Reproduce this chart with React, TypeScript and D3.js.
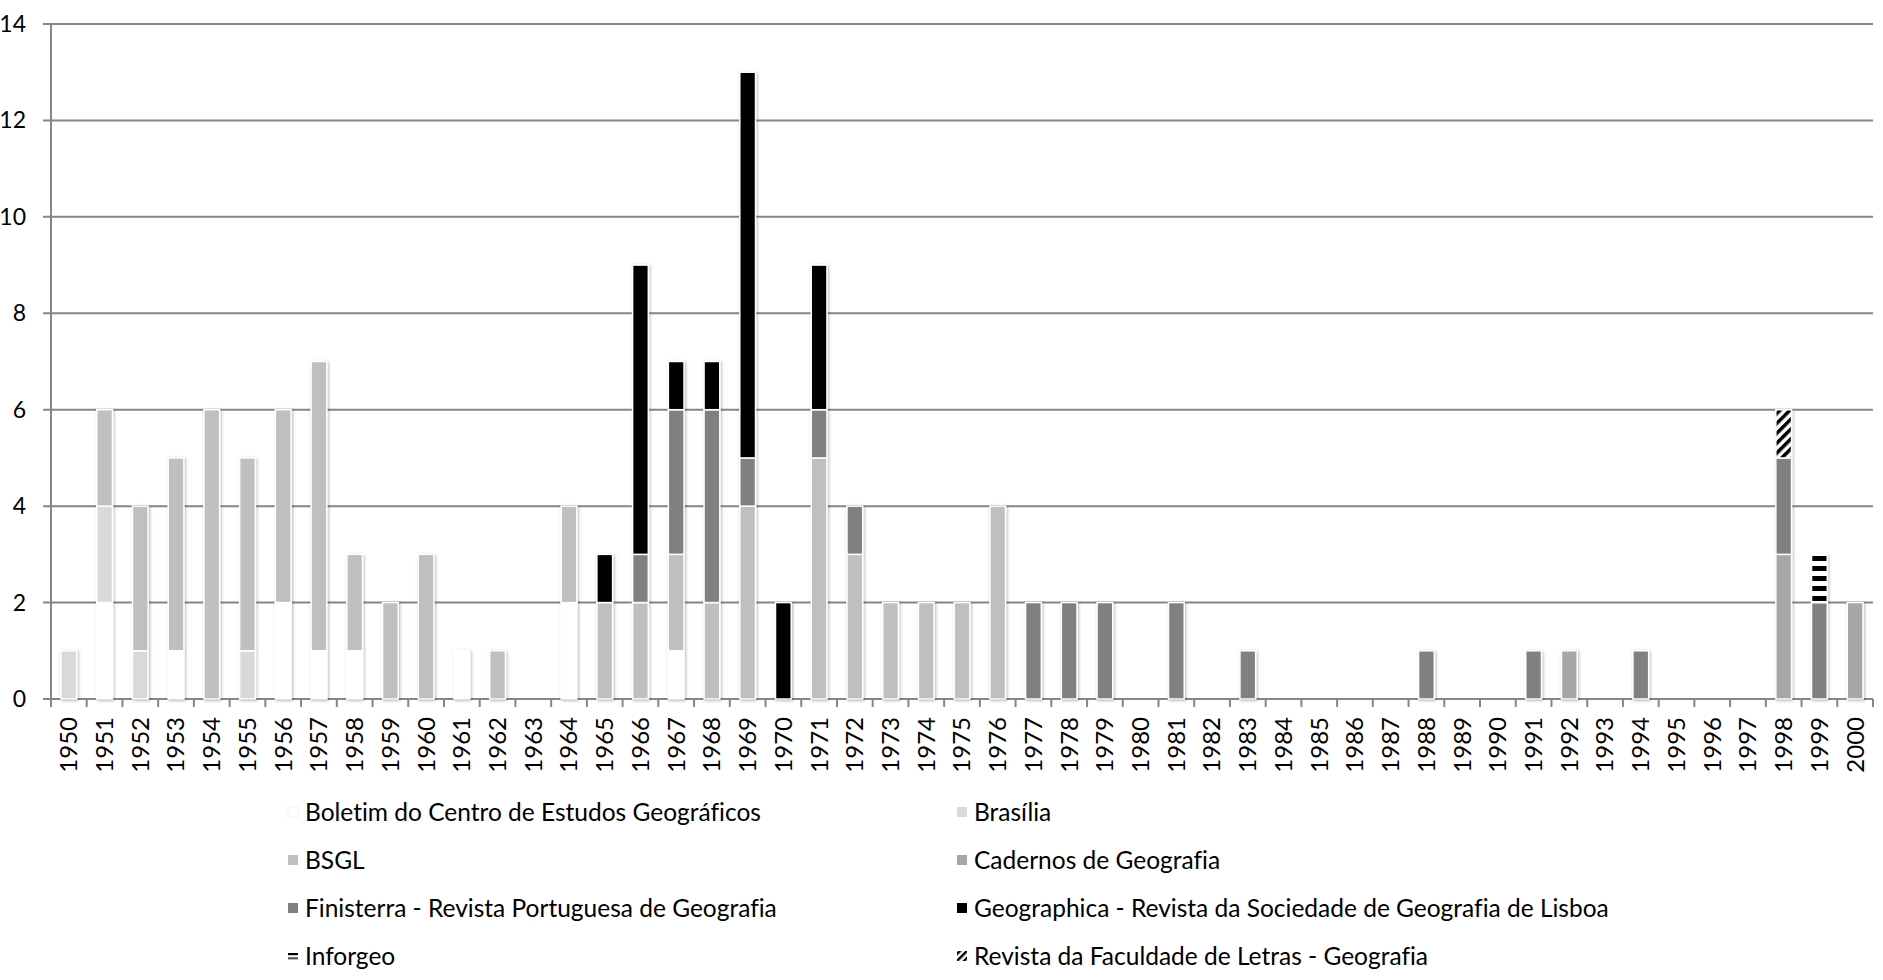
import React, { useEffect, useRef } from 'react';
import * as d3 from 'd3';

const years = d3.range(1950, 2001).map(String);

const seriesNames = [
  'Boletim do Centro de Estudos Geográficos',
  'Brasília',
  'BSGL',
  'Cadernos de Geografia',
  'Finisterra - Revista Portuguesa de Geografia',
  'Geographica - Revista da Sociedade de Geografia de Lisboa',
  'Inforgeo',
  'Revista da Faculdade de Letras - Geografia',
];

// values per year, 1950..2000
const boletim = [0, 2, 0, 1, 0, 0, 2, 1, 1, 0, 0, 1, 0, 0, 2, 0, 0, 1, 0, 0, 0, 0, 0, 0, 0, 0, 0, 0, 0, 0, 0, 0, 0, 0, 0, 0, 0, 0, 0, 0, 0, 0, 0, 0, 0, 0, 0, 0, 0, 0, 0];
const brasilia = [1, 2, 1, 0, 0, 1, 0, 0, 0, 0, 0, 0, 0, 0, 0, 0, 0, 0, 0, 0, 0, 0, 0, 0, 0, 0, 0, 0, 0, 0, 0, 0, 0, 0, 0, 0, 0, 0, 0, 0, 0, 0, 0, 0, 0, 0, 0, 0, 0, 0, 0];
const bsgl = [0, 2, 3, 4, 6, 4, 4, 6, 2, 2, 3, 0, 1, 0, 2, 2, 2, 2, 2, 4, 0, 5, 3, 2, 2, 2, 4, 0, 0, 0, 0, 0, 0, 0, 0, 0, 0, 0, 0, 0, 0, 0, 0, 0, 0, 0, 0, 0, 0, 0, 0];
const cadernos = [0, 0, 0, 0, 0, 0, 0, 0, 0, 0, 0, 0, 0, 0, 0, 0, 0, 0, 0, 0, 0, 0, 0, 0, 0, 0, 0, 0, 0, 0, 0, 0, 0, 0, 0, 0, 0, 0, 0, 0, 0, 0, 1, 0, 0, 0, 0, 0, 3, 0, 2];
const finisterra = [0, 0, 0, 0, 0, 0, 0, 0, 0, 0, 0, 0, 0, 0, 0, 0, 1, 3, 4, 1, 0, 1, 1, 0, 0, 0, 0, 2, 2, 2, 0, 2, 0, 1, 0, 0, 0, 0, 1, 0, 0, 1, 0, 0, 1, 0, 0, 0, 2, 2, 0];
const geographica = [0, 0, 0, 0, 0, 0, 0, 0, 0, 0, 0, 0, 0, 0, 0, 1, 6, 1, 1, 8, 2, 3, 0, 0, 0, 0, 0, 0, 0, 0, 0, 0, 0, 0, 0, 0, 0, 0, 0, 0, 0, 0, 0, 0, 0, 0, 0, 0, 0, 0, 0];
const inforgeo = [0, 0, 0, 0, 0, 0, 0, 0, 0, 0, 0, 0, 0, 0, 0, 0, 0, 0, 0, 0, 0, 0, 0, 0, 0, 0, 0, 0, 0, 0, 0, 0, 0, 0, 0, 0, 0, 0, 0, 0, 0, 0, 0, 0, 0, 0, 0, 0, 0, 1, 0];
const revistaFL = [0, 0, 0, 0, 0, 0, 0, 0, 0, 0, 0, 0, 0, 0, 0, 0, 0, 0, 0, 0, 0, 0, 0, 0, 0, 0, 0, 0, 0, 0, 0, 0, 0, 0, 0, 0, 0, 0, 0, 0, 0, 0, 0, 0, 0, 0, 0, 0, 1, 0, 0];

const yTicks = [0, 2, 4, 6, 8, 10, 12, 14];

const fills = ['#ffffff', '#d9d9d9', '#bfbfbf', '#a6a6a6', '#808080', '#000000', 'url(#pat-inforgeo)', 'url(#pat-revista)'];
const legendFills = ['#ffffff', '#d9d9d9', '#bfbfbf', '#a6a6a6', '#808080', '#000000', 'url(#pat-inforgeo-lg)', 'url(#pat-revista-lg)'];

const FONT = 'Lato, "Open Sans", sans-serif';

export default function App() {
  const ref = useRef<SVGSVGElement>(null);

  useEffect(() => {
    if (!ref.current) return;
    const svg = d3.select(ref.current);
    svg.selectAll('*').remove();

    const width = 1883;
    const height = 980;
    const m = { top: 24, right: 10, bottom: 281, left: 51 };

    const allSeries = [boletim, brasilia, bsgl, cadernos, finisterra, geographica, inforgeo, revistaFL];
    const table = years.map((yr, i) => {
      const row: any = { year: yr };
      seriesNames.forEach((n, k) => (row[n] = allSeries[k][i]));
      return row;
    });
    const stacked = d3.stack().keys(seriesNames)(table);

    const x = d3.scaleBand().domain(years).range([m.left, width - m.right]).paddingInner(0.56).paddingOuter(0.28);
    const y = d3.scaleLinear().domain([0, 14]).range([height - m.bottom, m.top]);

    const defs = svg.append('defs');
    // horizontal stripes (Inforgeo)
    const inf = defs.append('pattern').attr('id', 'pat-inforgeo').attr('patternUnits', 'userSpaceOnUse')
      .attr('y', 6).attr('width', 10).attr('height', 10);
    inf.append('rect').attr('width', 10).attr('height', 10).attr('fill', '#fff');
    inf.append('rect').attr('width', 10).attr('height', 5).attr('fill', '#000');

    // legend swatch: two stripes
    const infLg = defs.append('pattern').attr('id', 'pat-inforgeo-lg')
      .attr('patternUnits', 'objectBoundingBox').attr('patternContentUnits', 'objectBoundingBox')
      .attr('width', 1).attr('height', 1);
    infLg.append('rect').attr('width', 1).attr('height', 1).attr('fill', '#fff');
    infLg.append('rect').attr('y', 0.2).attr('width', 1).attr('height', 0.22).attr('fill', '#000');
    infLg.append('rect').attr('y', 0.62).attr('width', 1).attr('height', 0.22).attr('fill', '#555');

    // diagonal stripes (Revista)
    const rev = defs.append('pattern').attr('id', 'pat-revista').attr('patternUnits', 'userSpaceOnUse')
      .attr('width', 7).attr('height', 7).attr('patternTransform', 'rotate(45)');
    rev.append('rect').attr('width', 7).attr('height', 7).attr('fill', '#fff');
    rev.append('rect').attr('width', 3.5).attr('height', 7).attr('fill', '#000');

    const revLg = defs.append('pattern').attr('id', 'pat-revista-lg').attr('patternUnits', 'userSpaceOnUse')
      .attr('width', 5).attr('height', 5).attr('patternTransform', 'rotate(45)');
    revLg.append('rect').attr('width', 5).attr('height', 5).attr('fill', '#fff');
    revLg.append('rect').attr('width', 2.5).attr('height', 5).attr('fill', '#000');

    const shadow = defs.append('filter').attr('id', 'shadow').attr('x', '-50%').attr('y', '-10%').attr('width', '200%').attr('height', '120%');
    shadow.append('feDropShadow').attr('dx', 1).attr('dy', 1).attr('stdDeviation', 1.6)
      .attr('flood-color', '#000').attr('flood-opacity', 0.3);

    // gridlines
    svg.append('g').selectAll('line').data(yTicks).join('line')
      .attr('x1', m.left - 8).attr('x2', width - m.right)
      .attr('y1', d => y(d)).attr('y2', d => y(d))
      .attr('stroke', '#868686').attr('stroke-width', 2);

    // y axis line
    svg.append('line').attr('x1', m.left).attr('x2', m.left).attr('y1', y(14)).attr('y2', y(0) + 8)
      .attr('stroke', '#868686').attr('stroke-width', 2);

    svg.append('g').selectAll('text').data(yTicks).join('text')
      .attr('x', 26).attr('y', d => y(d)).attr('dy', '0.35em').attr('text-anchor', 'end')
      .attr('font-family', FONT).attr('font-size', 23).attr('fill', '#000')
      .text(d => d);

    // x tick marks at category boundaries
    const step = x.step();
    const x0 = m.left;
    svg.append('g').selectAll('line').data(d3.range(years.length + 1)).join('line')
      .attr('x1', i => x0 + i * step).attr('x2', i => x0 + i * step)
      .attr('y1', y(0)).attr('y2', y(0) + 8)
      .attr('stroke', '#868686').attr('stroke-width', 2);

    // bars
    const gBars = svg.append('g').attr('filter', 'url(#shadow)');
    stacked.forEach((s, k) => {
      gBars.append('g').selectAll('rect').data(s.filter(d => d[1] - d[0] > 0)).join('rect')
        .attr('x', (d: any) => x(d.data.year)!)
        .attr('width', x.bandwidth())
        .attr('y', d => y(d[1]))
        .attr('height', d => y(d[0]) - y(d[1]))
        .attr('fill', fills[k])
        .attr('stroke', '#fff').attr('stroke-width', 1.5);
    });

    // x labels
    svg.append('g').selectAll('text').data(years).join('text')
      .attr('transform', d => `translate(${x(d)! + x.bandwidth() / 2},${y(0) + 18}) rotate(-90)`)
      .attr('text-anchor', 'end').attr('dy', '0.35em')
      .attr('font-family', FONT).attr('font-size', 24).attr('fill', '#000')
      .text(d => d);

    // legend
    const cols = [288, 957];
    const rows = [812, 860, 908, 956];
    const lg = svg.append('g');
    seriesNames.forEach((n, k) => {
      const cx = cols[k % 2];
      const cy = rows[Math.floor(k / 2)];
      lg.append('rect').attr('x', cx).attr('y', cy - 5).attr('width', 10).attr('height', 10)
        .attr('fill', legendFills[k])
        .attr('stroke', k === 0 ? '#f2f2f2' : 'none').attr('stroke-width', 1);
      lg.append('text').attr('x', cx + 17).attr('y', cy).attr('dy', '0.35em')
        .attr('font-family', FONT).attr('font-size', 24.5).attr('fill', '#000')
        .style('font-variant-ligatures', 'none')
        .text(n);
    });
  }, []);

  return (
    <svg ref={ref} width={1883} height={980}
      style={{ position: 'absolute', left: 0, top: 0, background: '#fff' }} />
  );
}
